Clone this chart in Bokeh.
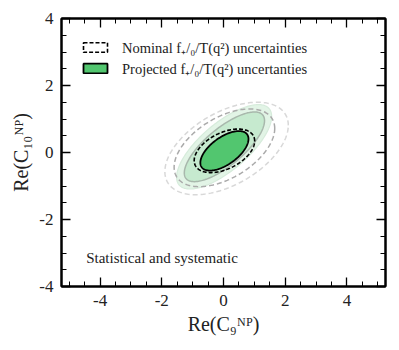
import numpy as np
from bokeh.plotting import figure
from bokeh.models import (Range1d, LinearAxis, SingleIntervalTicker, Legend, LegendItem, Label,
                          CustomLabelingPolicy)
from bokeh.embed import file_html
from bokeh.resources import INLINE

# Confidence contours: center x, center y, half-extent x, half-extent y, correlation
names = ["proj3", "proj2", "nom3", "nom2", "proj1", "nom1"]
cx = [0.02, 0.03, 0.10, 0.03, 0.03, 0.03]
cy = [0.17, 0.17, 0.12, 0.14, 0.05, 0.05]
hx = [1.54, 1.30, 2.00, 1.63, 0.78, 0.98]
hy = [1.26, 1.04, 1.38, 1.16, 0.59, 0.65]
rho = [0.72, 0.75, 0.50, 0.50, 0.60, 0.45]

tick_values = [-4, -2, 0, 2, 4]
tick_labels = ["-4", "-2", "0", "2", "4"]
tick_interval = 2
minor_per_major = 4

SERIF = "Liberation Serif"

def contour(i, n=200):
    t = np.linspace(0, 2 * np.pi, n)
    xs = cx[i] + hx[i] * np.cos(t)
    ys = cy[i] + hy[i] * (rho[i] * np.cos(t) + np.sqrt(1 - rho[i] ** 2) * np.sin(t))
    return xs, ys

p = figure(width=399, height=350, output_backend="svg", toolbar_location=None,
           x_range=Range1d(-5.25, 5.25), y_range=Range1d(-4, 4),
           min_border_left=61, min_border_right=14, min_border_top=18, min_border_bottom=64)
p.xgrid.visible = False
p.ygrid.visible = False
p.outline_line_color = "black"
p.outline_line_width = 2

style = dict(
    proj3=dict(fill_color="#e2f4e6", fill_alpha=1, line_color="#d6ebdb", line_width=1.2),
    proj2=dict(fill_color="#c6eacf", fill_alpha=1, line_color="#a8b8ac", line_width=1.5),
    nom3=dict(fill_alpha=0, line_color="#d8d8d8", line_width=1.5, line_dash="5 3"),
    nom2=dict(fill_alpha=0, line_color="#aaaaaa", line_width=1.5, line_dash="5 3"),
    proj1=dict(fill_color="#52c66f", fill_alpha=1, line_color="black", line_width=1.8),
    nom1=dict(fill_alpha=0, line_color="black", line_width=1.6, line_dash="4 2"),
)
renderers = {}
for i, nm in enumerate(names):
    xs, ys = contour(i)
    renderers[nm] = p.patch(xs, ys, **style[nm])

bottom = p.below[0]
left = p.left[0]
bottom.ticker = SingleIntervalTicker(interval=tick_interval, num_minor_ticks=minor_per_major)
left.ticker = SingleIntervalTicker(interval=tick_interval, num_minor_ticks=minor_per_major)
no_labels = CustomLabelingPolicy(code="""
for (const i of Array.from(indices)) { indices.unset(i) }
return indices
""")
top = LinearAxis(ticker=SingleIntervalTicker(interval=tick_interval, num_minor_ticks=minor_per_major),
                 major_label_policy=no_labels)
right = LinearAxis(ticker=SingleIntervalTicker(interval=tick_interval, num_minor_ticks=minor_per_major),
                   major_label_policy=no_labels)
p.add_layout(top, "above")
p.add_layout(right, "right")
for ax in [bottom, left, top, right]:
    ax.major_tick_in = 9
    ax.major_tick_out = 0
    ax.minor_tick_in = 5
    ax.minor_tick_out = 0
    ax.major_tick_line_color = "black"
    ax.minor_tick_line_color = "black"
    ax.major_tick_line_width = 1.3
    ax.minor_tick_line_width = 1
    ax.axis_line_color = "black"
    ax.axis_line_width = 2
    ax.major_label_text_font = SERIF
    ax.major_label_text_font_size = "17px"
    ax.major_label_text_color = "#222222"
    ax.axis_label_text_font = SERIF
    ax.axis_label_text_font_style = "normal"
    ax.axis_label_text_font_size = "20px"
    ax.axis_label_text_color = "#222222"
for ax in [bottom, left]:
    ax.major_label_overrides = {v: s for v, s in zip(tick_values, tick_labels)}
for ax in [top, right]:
    ax.major_label_standoff = 0
    ax.axis_label_standoff = 0
    ax.major_label_overrides = {v: "" for v in tick_values}

bottom.major_label_standoff = 8
left.major_label_standoff = 8
bottom.axis_label = "Re(C₉ᴺᴾ)"
left.axis_label = "Re(C₁₀ᴺᴾ)"
bottom.axis_label_standoff = 4
left.axis_label_standoff = 4

legend = Legend(items=[
    LegendItem(label="Nominal f₊/₀/T(q²) uncertainties", renderers=[renderers["nom1"]]),
    LegendItem(label="Projected f₊/₀/T(q²) uncertanties", renderers=[renderers["proj1"]]),
], location="top_left")
legend.margin = 12
legend.padding = 7
legend.border_line_alpha = 0
legend.background_fill_alpha = 0
legend.glyph_width = 30
legend.glyph_height = 12
legend.label_height = 14
legend.spacing = 1
legend.label_text_font = SERIF
legend.label_text_font_size = "14.5px"
legend.label_text_color = "#222222"
legend.label_standoff = 12
p.add_layout(legend)

p.add_layout(Label(x=-4.45, y=-3.16, text="Statistical and systematic",
                   text_font=SERIF, text_font_size="15px", text_color="#222222",
                   text_baseline="middle"))

open("out.html", "w").write(file_html(p, INLINE))
